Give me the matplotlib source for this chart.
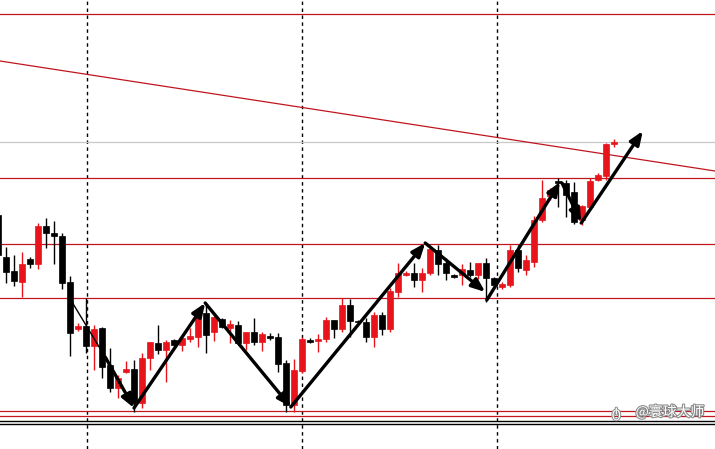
import matplotlib
matplotlib.use('Agg')
from matplotlib import pyplot as plt
import matplotlib.patheffects as pe

plt.rcParams['font.family'] = ['Noto Sans CJK SC', 'DejaVu Sans']

# candle data, price units (higher = up); bar index 0 is the first full candle
bar_idx = list(range(-1, 77))
up = [0, 0, 0, 1, 0, 1, 0, 0, 0, 0,
      1, 0, 1, 0, 0, 1, 1, 0, 1, 1,
      0, 1, 0, 1, 1, 1, 0, 1, 0, 1,
      0, 1, 0, 1, 0, 0, 0, 1, 1, 0,
      1, 1, 0, 1, 0, 0, 0, 1, 0, 1,
      1, 1, 0, 1, 1, 0, 0, 0, 1, 0,
      1, 0, 0, 1, 1, 0, 1, 1, 1, 1,
      0, 0, 0, 1, 1, 1, 1, 1]
body_top = [234, 192, 178, 185, 190, 223, 223, 216, 213, 167,
            123, 123, 120, 121, 84, 71, 80, 80, 91, 107,
            106, 107, 109, 111, 113, 136, 136, 132, 130, 125,
            124, 117, 117, 115, 113, 112, 86, 79, 110, 109,
            110, 129, 129, 144, 144, 128, 127, 134, 134, 158,
            176, 176, 176, 176, 200, 199, 186, 174, 180, 179,
            186, 186, 171, 165, 199, 199, 189, 229, 251, 259,
            268, 266, 257, 243, 268, 274, 305, 307]
body_bot = [194, 177, 168, 167, 185, 185, 216, 213, 166, 116,
            120, 103, 103, 82, 61, 61, 77, 46, 46, 91,
            99, 99, 104, 104, 110, 112, 114, 117, 122, 121,
            106, 106, 107, 107, 111, 85, 44, 44, 78, 107,
            108, 110, 120, 120, 128, 127, 112, 112, 120, 120,
            157, 174, 169, 169, 176, 185, 176, 172, 174, 174,
            174, 171, 164, 162, 164, 181, 179, 187, 229, 253,
            266, 254, 227, 229, 242, 269, 273, 305]
wick_hi = [239, 202, 194, 197, 192, 226, 231, 228, 216, 173,
           126, 151, 124, 122, 101, 74, 88, 89, 96, 107,
           124, 109, 110, 112, 121, 141, 144, 133, 131, 129,
           128, 117, 131, 117, 116, 116, 89, 90, 112, 111,
           115, 132, 129, 151, 150, 129, 131, 137, 137, 161,
           186, 178, 186, 181, 202, 204, 191, 175, 185, 187,
           186, 191, 172, 167, 204, 204, 194, 233, 269, 261,
           271, 269, 267, 244, 271, 276, 306, 310]
wick_lo = [187, 166, 163, 152, 181, 180, 201, 185, 160, 93,
           118, 96, 79, 71, 57, 51, 76, 37, 41, 79,
           95, 67, 103, 98, 107, 102, 96, 108, 121, 106,
           106, 99, 104, 98, 109, 77, 37, 37, 76, 106,
           97, 107, 111, 117, 112, 126, 107, 102, 114, 117,
           152, 173, 162, 157, 174, 174, 169, 171, 164, 172,
           170, 147, 161, 160, 162, 177, 174, 182, 227, 249,
           242, 232, 225, 224, 241, 268, 269, 302]

# horizontal levels and trend line
red_levels = [435, 271, 205, 151, 38, 33]
grey_level = 307
base_lines = [28, 25]
trend_x = [-0.75, 88.625]
trend_y = [388, 278]
vlines = [10.1, 37.0, 61.4]

# swing arrows (bar index, price); first leg starts as a thin line
thin_leg = ((8.25, 147), (12.4, 92))
swings = [((12.4, 92), (16.0, 41)),
          ((16.0, 41), (24.9, 146)),
          ((24.9, 146), (35.6, 42)),
          ((35.6, 42), (52.4, 206)),
          ((52.4, 206), (59.9, 157)),
          ((60.1, 149), (69.25, 267)),
          ((69.5, 266), (71.9, 227)),
          ((71.9, 226), (79.6, 318))]

candle_red = '#e8141c'
line_red = '#c0161e'

fig = plt.figure(figsize=(7.15, 4.49), dpi=100)
ax = fig.add_axes([0, 0, 1, 1])

for i, x in enumerate(bar_idx):
    col = candle_red if up[i] else 'black'
    ax.vlines(x, wick_lo[i], wick_hi[i], color=col, lw=1, zorder=3)
    h = max(body_top[i] - body_bot[i], 1)
    ax.bar(x, h, bottom=body_bot[i], width=0.7, color=col, edgecolor=col,
           lw=0.5, zorder=4)

for lv in red_levels:
    ax.axhline(lv, color=line_red, lw=0.9, zorder=2)
ax.axhline(grey_level, color='#c8c8c8', lw=0.9, zorder=2)
for lv in base_lines:
    ax.axhline(lv, color='black', lw=1.0, zorder=2)
ax.plot(trend_x, trend_y, color=line_red, lw=0.9, zorder=2)
for vx in vlines:
    ax.axvline(vx, color='black', lw=1, ls=(0, (2.5, 2.5)), zorder=1)

ax.plot([thin_leg[0][0], thin_leg[1][0]], [thin_leg[0][1], thin_leg[1][1]],
        color='black', lw=1, zorder=5)
for (x0, y0), (x1, y1) in swings:
    ax.annotate('', xy=(x1, y1), xytext=(x0, y0),
                arrowprops=dict(arrowstyle='-|>,head_length=0.8,head_width=0.32',
                                color='black', lw=2.4, shrinkA=0, shrinkB=0),
                zorder=5)

# watermark
ax.text(0.985, 0.082, '@寰球大师', transform=ax.transAxes, ha='right', va='center',
        fontsize=10, color='white', zorder=6,
        path_effects=[pe.withStroke(linewidth=1.6, foreground='#8c8c8c')])
ax.text(0.862, 0.080, 'ტ', transform=ax.transAxes, ha='center', va='center',
        fontsize=10, color='white', zorder=6,
        path_effects=[pe.withStroke(linewidth=1.4, foreground='#8c8c8c')])

ax.set_xlim(-0.75, 88.625)
ax.set_ylim(0, 449)
ax.axis('off')

plt.savefig('out.png', dpi=100)
plt.close()
